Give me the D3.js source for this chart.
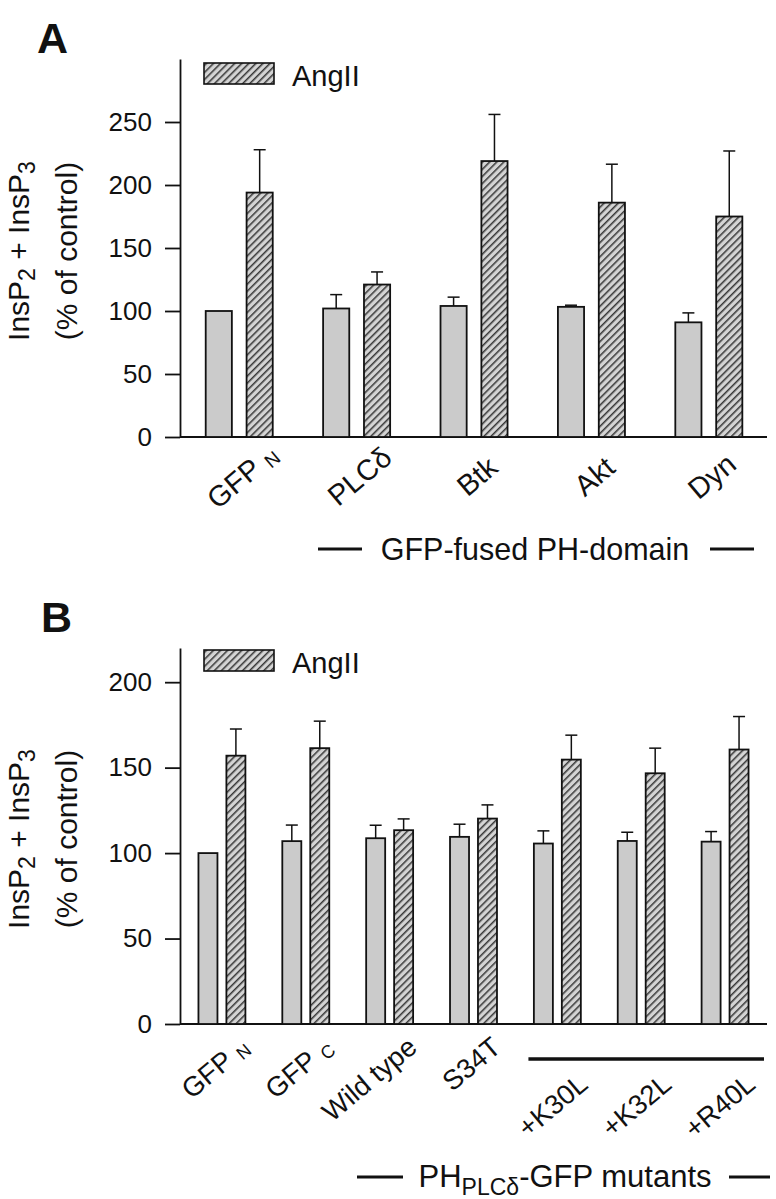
<!DOCTYPE html>
<html><head><meta charset="utf-8">
<script src="https://cdn.jsdelivr.net/npm/d3@7"></script>
<style>
body{margin:0;background:#fff}
text{font-family:"Liberation Sans",Arial,Helvetica,sans-serif;fill:#111}
</style>
</head><body>
<svg id="chart" width="776" height="1199"></svg>
<script>
// ---------- Data ----------
// Panel A: GFP-fused PH-domains
const catsA = ["GFP", "PLCδ", "Btk", "Akt", "Dyn"];
const subsA = ["N", "", "", "", ""];
const controlA = [100, 102, 104, 103.3, 91];
const controlErrA = [0, 11, 7, 1.3, 7.5];
const angA = [194, 121, 219, 186, 175];
const angErrA = [34, 10, 37, 30.5, 52];
const ticksA = [0, 50, 100, 150, 200, 250];

// Panel B: PH(PLCδ)-GFP mutants
const catsB = ["GFP", "GFP", "Wild type", "S34T", "+K30L", "+K32L", "+R40L"];
const subsB = ["N", "C", "", "", "", "", ""];
const controlB = [100, 107, 108.7, 109.5, 105.6, 107.1, 106.7];
const controlErrB = [0, 9.4, 7.6, 7.4, 7.4, 5.1, 5.9];
const angB = [157, 161.4, 113.4, 120.2, 154.7, 146.7, 160.6];
const angErrB = [15.6, 15.8, 6.6, 8, 14.3, 14.7, 19.3];
const ticksB = [0, 50, 100, 150, 200];

const legendLabel = "AngII";

// ---------- Drawing ----------
const svg = d3.select("#chart");
const defs = svg.append("defs");
const hatch = defs.append("pattern")
  .attr("id", "hatch").attr("patternUnits", "userSpaceOnUse")
  .attr("width", 5).attr("height", 5)
  .attr("patternTransform", "rotate(45)");
hatch.append("rect").attr("width", 5).attr("height", 5).attr("fill", "#d4d4d4");
hatch.append("line").attr("x1", 0.8).attr("y1", 0).attr("x2", 0.8).attr("y2", 5)
  .attr("stroke", "#1c1c1c").attr("stroke-width", 1.3);

const GRAY = "#cbcbcb";

function panel(cfg) {
  const g = svg.append("g");
  const n = cfg.cats.length;
  const x = d3.scaleBand().domain(d3.range(n)).range([180, 767]).padding(0);
  const y = d3.scaleLinear().domain([0, cfg.yMax]).range([cfg.bottom, cfg.top]);
  const inner = d3.scaleBand().domain(["ctrl", "ang"])
    .range([x.bandwidth() * cfg.innerL, x.bandwidth() * cfg.innerR])
    .paddingInner(cfg.innerPad).paddingOuter(0);

  // Panel letter
  g.append("text").attr("x", cfg.letterX).attr("y", cfg.letterY)
    .attr("font-size", 43).attr("font-weight", "bold").text(cfg.letter);

  // Y axis
  const ax = g.append("g").attr("transform", "translate(180,0)")
    .call(d3.axisLeft(y).tickValues(cfg.ticks).tickSize(15).tickSizeOuter(0).tickPadding(13));
  ax.selectAll("path.domain").attr("stroke", "#111").attr("stroke-width", 1.8);
  ax.selectAll(".tick line").attr("stroke", "#111").attr("stroke-width", 1.8);
  ax.selectAll(".tick text").attr("font-size", 26)
    .attr("font-family", "'Liberation Sans',Arial,sans-serif").attr("fill", "#111");

  // Baseline
  g.append("line").attr("x1", 180).attr("x2", 767)
    .attr("y1", y(0)).attr("y2", y(0)).attr("stroke", "#111").attr("stroke-width", 1.8);

  // Y label
  const midY = (cfg.top + cfg.bottom) / 2 + 3;
  const yl1 = g.append("text").attr("transform", `translate(29,${midY}) rotate(-90)`)
    .attr("text-anchor", "middle").attr("font-size", 30);
  yl1.append("tspan").text("InsP");
  yl1.append("tspan").attr("font-size", 23).attr("dy", 6).text("2");
  yl1.append("tspan").attr("dy", -6).text(" + InsP");
  yl1.append("tspan").attr("font-size", 23).attr("dy", 6).text("3");
  g.append("text").attr("transform", `translate(77,${midY}) rotate(-90)`)
    .attr("text-anchor", "middle").attr("font-size", 30).text("(% of control)");

  // Bars
  const bars = [];
  d3.range(n).forEach(i => {
    bars.push({ i, k: "ctrl", v: cfg.ctrl[i], e: cfg.ctrlErr[i] });
    bars.push({ i, k: "ang", v: cfg.ang[i], e: cfg.angErr[i] });
  });
  const bx = d => x(d.i) + inner(d.k);
  const bw = inner.bandwidth();

  // Error bars (upper only)
  g.selectAll(".err").data(bars.filter(d => d.e > 0)).join("g").each(function (d) {
    const cx = bx(d) + bw / 2;
    const s = d3.select(this);
    s.append("line").attr("x1", cx).attr("x2", cx).attr("y1", y(d.v)).attr("y2", y(d.v + d.e))
      .attr("stroke", "#111").attr("stroke-width", 1.5);
    s.append("line").attr("x1", cx - 6).attr("x2", cx + 6)
      .attr("y1", y(d.v + d.e)).attr("y2", y(d.v + d.e))
      .attr("stroke", "#111").attr("stroke-width", 1.5);
  });

  g.selectAll(".bar").data(bars).join("rect")
    .attr("x", bx).attr("width", bw)
    .attr("y", d => y(d.v)).attr("height", d => y(0) - y(d.v))
    .attr("fill", d => d.k === "ctrl" ? GRAY : "url(#hatch)")
    .attr("stroke", "#111").attr("stroke-width", 1.8);

  // Legend
  g.append("rect").attr("x", 204).attr("y", cfg.legY).attr("width", 70).attr("height", 21)
    .attr("fill", "url(#hatch)").attr("stroke", "#111").attr("stroke-width", 1.6);
  g.append("text").attr("x", 292).attr("y", cfg.legY + 23).attr("font-size", 29).text(legendLabel);

  // Category labels
  d3.range(n).forEach(i => {
    const cx = x(i) + x.bandwidth() / 2;
    const p = cfg.labelPos(i, cx);
    const t = g.append("text")
      .attr("transform", `translate(${p[0]},${p[1]}) rotate(-40)`)
      .attr("text-anchor", cfg.labelAnchor).attr("font-size", cfg.labelSize)
      .text(cfg.cats[i]);
    if (cfg.subs[i]) {
      t.append("tspan").attr("font-size", cfg.labelSize * 0.66).attr("dx", 8).attr("dy", 3)
        .text(cfg.subs[i]);
    }
  });
  return { g, x, y };
}

// Panel A
const A = panel({
  letter: "A", letterX: 37, letterY: 53,
  cats: catsA, subs: subsA, ctrl: controlA, ctrlErr: controlErrA, ang: angA, angErr: angErrA,
  ticks: ticksA, yMax: 300, top: 59, bottom: 437,
  innerL: 0.219, innerR: 0.79, innerPad: 0.36,
  legY: 63,
  labelAnchor: "middle", labelSize: 29,
  labelPos: (i, cx) => [cx + 10, 484]
});
A.g.append("text").attr("x", 535).attr("y", 560).attr("text-anchor", "middle")
  .attr("font-size", 30.5).text("GFP-fused PH-domain");
A.g.append("line").attr("x1", 318).attr("x2", 362).attr("y1", 549).attr("y2", 549)
  .attr("stroke", "#111").attr("stroke-width", 3);
A.g.append("line").attr("x1", 710).attr("x2", 754).attr("y1", 549).attr("y2", 549)
  .attr("stroke", "#111").attr("stroke-width", 3);

// Panel B
const B = panel({
  letter: "B", letterX: 41, letterY: 632,
  cats: catsB, subs: subsB, ctrl: controlB, ctrlErr: controlErrB, ang: angB, angErr: angErrB,
  ticks: ticksB, yMax: 220, top: 648, bottom: 1024,
  innerL: 0.22, innerR: 0.78, innerPad: 0.32,
  legY: 650,
  labelAnchor: "end", labelSize: 27.5,
  labelPos: (i, cx) => i < 4 ? [cx + 29, 1050] : [cx + 32, 1087]
});
// bracket over mutants
B.g.append("line").attr("x1", B.x(4) + 13).attr("x2", 764).attr("y1", 1059).attr("y2", 1059)
  .attr("stroke", "#111").attr("stroke-width", 3.5);
const ph = B.g.append("text").attr("x", 565).attr("y", 1187).attr("text-anchor", "middle")
  .attr("font-size", 31);
ph.append("tspan").text("PH");
ph.append("tspan").attr("font-size", 23).attr("dy", 8).text("PLCδ");
ph.append("tspan").attr("dy", -8).text("-GFP mutants");
B.g.append("line").attr("x1", 357).attr("x2", 403).attr("y1", 1177).attr("y2", 1177)
  .attr("stroke", "#111").attr("stroke-width", 3);
B.g.append("line").attr("x1", 729).attr("x2", 770).attr("y1", 1177).attr("y2", 1177)
  .attr("stroke", "#111").attr("stroke-width", 3);
</script>
</body></html>
